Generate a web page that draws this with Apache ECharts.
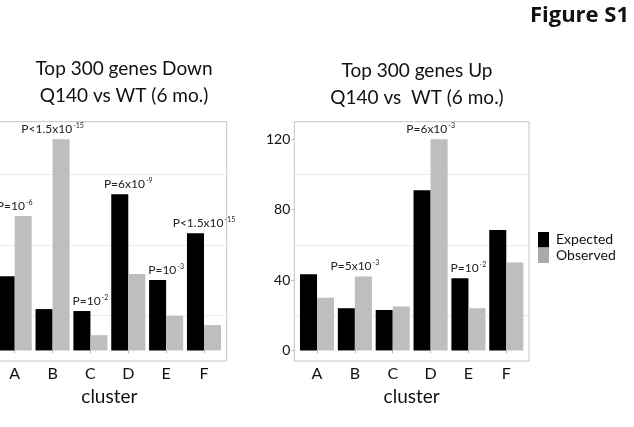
<!DOCTYPE html>
<html>
<head>
<meta charset="utf-8">
<script src="https://cdn.jsdelivr.net/npm/echarts@6/dist/echarts.min.js"></script>
<style>
  html, body { margin: 0; padding: 0; background: #fff; }
  #chart { width: 634px; height: 427px; }
</style>
</head>
<body>
<div id="chart"></div>
<script>
// Cluster categories and axis ticks
const clusters = ['A', 'B', 'C', 'D', 'E', 'F'];
const yTicks = [0, 40, 80, 120];
const gridMinor = [20, 60, 100];

// Top 300 genes Down
const downExpected = [42.2, 23.5, 22.4, 88.7, 40.0, 66.6];
const downObserved = [76.4, 120.0, 8.7, 43.5, 19.7, 14.4];
const downPvals = [['P=10', '-6'], ['P<1.5x10', '-15'], ['P=10', '-2'], ['P=6x10', '-9'], ['P=10', '-3'], ['P<1.5x10', '-15']];

// Top 300 genes Up
const upExpected = [43.3, 24.0, 23.0, 91.0, 41.0, 68.5];
const upObserved = [30.0, 42.0, 25.0, 120.0, 24.0, 50.0];
const upPvals = [null, ['P=5x10', '-3'], null, ['P=6x10', '-3'], ['P=10', '-2'], null];

const FONT = 'Lato';
const BLACK = '#000000';
const GREY = '#bebebe';
const HALF_BAR = 8.5;

const pRich = {
  b: { fontFamily: FONT, fontSize: 12, color: '#222', lineHeight: 14 },
  s: { fontFamily: FONT, fontSize: 7, color: '#222', lineHeight: 10, verticalAlign: 'top', padding: [0, 0, 0, 1] }
};

function barData(values, other, pvals, isObserved) {
  return values.map((v, i) => {
    const item = { value: [i + 1, v] };
    const p = pvals[i];
    const taller = isObserved ? v >= other[i] : v > other[i];
    if (p && taller) {
      item.label = {
        show: true,
        position: 'top',
        distance: 3,
        offset: [isObserved ? -HALF_BAR : HALF_BAR, 0],
        formatter: '{b|' + p[0] + '}{s|' + p[1] + '}',
        rich: pRich
      };
    }
    return item;
  });
}

function panelAxes(idx, showYLabels) {
  const xAxis = {
    type: 'value', gridIndex: idx, min: 0.4, max: 6.6,
    name: 'cluster', nameLocation: 'middle', nameGap: 21,
    nameTextStyle: { fontFamily: FONT, fontSize: 19, color: '#111' },
    axisLine: { show: false },
    axisTick: { show: true, length: 3, lineStyle: { color: '#bbbbbb' }, customValues: [1, 2, 3, 4, 5, 6] },
    axisLabel: {
      customValues: [1, 2, 3, 4, 5, 6], margin: 5,
      fontFamily: FONT, fontSize: 16, color: '#111',
      formatter: v => clusters[Math.round(v) - 1]
    },
    splitLine: { show: false }
  };
  const yAxis = {
    type: 'value', gridIndex: idx, min: -6, max: 130,
    axisLine: { show: false },
    axisTick: { show: true, length: 3, lineStyle: { color: '#bbbbbb' }, customValues: yTicks },
    axisLabel: { show: showYLabels, customValues: yTicks, margin: 4, fontFamily: FONT, fontSize: 14, color: '#111' },
    splitLine: { show: false }
  };
  return { xAxis, yAxis };
}

function panelSeries(idx, expected, observed, pvals) {
  const common = { type: 'bar', xAxisIndex: idx, yAxisIndex: idx, barGap: '0%', barCategoryGap: '10%', barWidth: '45%', z: 2 };
  return [
    Object.assign({}, common, {
      name: 'Expected', itemStyle: { color: BLACK },
      data: barData(expected, observed, pvals, false),
      markLine: {
        silent: true, symbol: 'none', z: 1,
        label: { show: false },
        lineStyle: { color: '#ebebeb', width: 1, type: 'solid' },
        data: gridMinor.map(v => ({ yAxis: v }))
      }
    }),
    Object.assign({}, common, {
      name: 'Observed', itemStyle: { color: GREY },
      data: barData(observed, expected, pvals, true)
    })
  ];
}

const left = panelAxes(0, true);
const right = panelAxes(1, true);

const gridBase = {
  top: 121.7, width: 234.7, height: 239.3,
  show: true, borderColor: '#c4c4c4', borderWidth: 1, backgroundColor: 'transparent',
  containLabel: false, outerBoundsMode: 'none'
};

const option = {
  backgroundColor: '#ffffff',
  animation: false,
  textStyle: { fontFamily: FONT },
  title: [
    {
      text: 'Figure S1', right: 0, top: 0,
      textStyle: { fontFamily: 'Open Sans', fontWeight: 'bold', fontSize: 22, color: '#111' }
    },
    {
      text: 'Top 300 genes Down\nQ140 vs WT (6 mo.)', left: 119, top: 50, textAlign: 'center',
      textStyle: { fontFamily: FONT, fontWeight: 'normal', fontSize: 19, lineHeight: 27, color: '#111' }
    },
    {
      text: 'Top 300 genes Up\nQ140 vs  WT (6 mo.)', left: 412, top: 52, textAlign: 'center',
      textStyle: { fontFamily: FONT, fontWeight: 'normal', fontSize: 19, lineHeight: 27, color: '#111' }
    }
  ],
  legend: {
    orient: 'vertical', left: 533, top: 227,
    itemWidth: 11, itemHeight: 15.5, itemGap: 0, icon: 'rect',
    selectedMode: false,
    textStyle: { fontFamily: FONT, fontSize: 14, color: '#111', padding: [0, 0, 0, 2] },
    data: [
      { name: 'Expected', itemStyle: { color: BLACK } },
      { name: 'Observed', itemStyle: { color: '#aaaaaa' } }
    ]
  },
  grid: [
    Object.assign({ left: -8 }, gridBase),
    Object.assign({ left: 294.3 }, gridBase)
  ],
  xAxis: [left.xAxis, right.xAxis],
  yAxis: [left.yAxis, right.yAxis],
  series: panelSeries(0, downExpected, downObserved, downPvals)
    .concat(panelSeries(1, upExpected, upObserved, upPvals))
};

const chart = echarts.init(document.getElementById('chart'), null, { renderer: 'canvas' });
chart.setOption(option);
</script>
</body>
</html>
